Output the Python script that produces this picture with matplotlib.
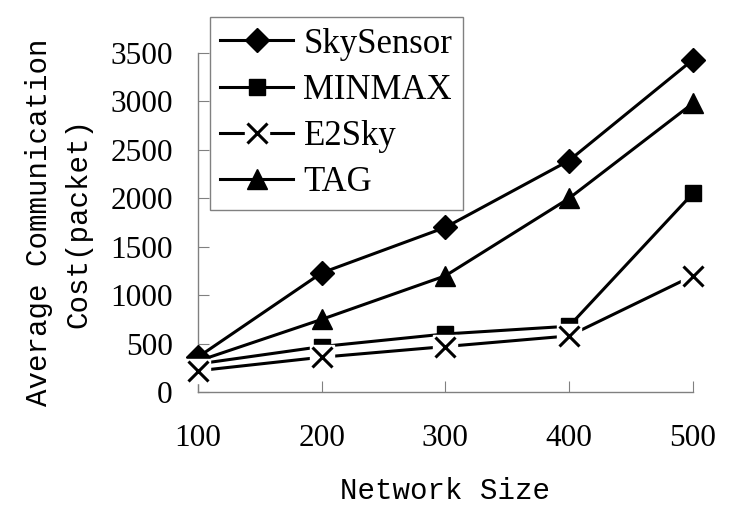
import matplotlib
matplotlib.use("Agg")
import matplotlib.pyplot as plt

sizes = [100, 200, 300, 400, 500]
skysensor = [360, 1230, 1700, 2390, 3430]
minmax = [290, 470, 600, 680, 2050]
e2sky = [220, 360, 470, 580, 1200]
tag = [320, 750, 1200, 2000, 2980]

serif = "Liberation Serif"
mono = "Liberation Mono"

fig = plt.figure(figsize=(7.3, 5.2), dpi=100)
ax = fig.add_axes([0.271, 0.246, 0.678, 0.652])

lw = 2.2
# lines first, markers on top
ax.plot(sizes, skysensor, color="black", lw=lw, zorder=2)
ax.plot(sizes, minmax, color="black", lw=lw, zorder=2)
ax.plot(sizes, e2sky, color="black", lw=lw, zorder=2)
ax.plot(sizes, tag, color="black", lw=lw, zorder=2)

ax.plot(sizes, skysensor, ls="none", marker="D", ms=12, color="black", zorder=3, clip_on=False)
ax.plot(sizes, minmax, ls="none", marker="s", ms=12, color="black", zorder=3, clip_on=False)
ax.plot(sizes, tag, ls="none", marker="^", ms=15, color="black", zorder=3, clip_on=False)
# E2Sky crosses sit on a white patch that cuts the lines underneath
ax.plot(sizes, e2sky, ls="none", marker="s", ms=17, color="white", zorder=4, clip_on=False)
ax.plot(sizes, e2sky, ls="none", marker="x", ms=14, mew=2.2, color="black", zorder=5, clip_on=False)

# legend handles
h_sky = plt.Line2D([], [], color="black", lw=lw, marker="D", ms=12)
h_min = plt.Line2D([], [], color="black", lw=lw, marker="s", ms=12)
h_e2_line = plt.Line2D([], [], color="black", lw=lw)
h_e2_bg = plt.Line2D([], [], ls="none", marker="s", ms=17, color="white")
h_e2_x = plt.Line2D([], [], ls="none", marker="x", ms=14, mew=2.2, color="black")
h_tag = plt.Line2D([], [], color="black", lw=lw, marker="^", ms=15)

leg = ax.legend([h_sky, h_min, (h_e2_line, h_e2_bg, h_e2_x), h_tag],
                ["SkySensor", "MINMAX", "E2Sky", "TAG"],
                loc="upper left", bbox_to_anchor=(0.024, 1.106), borderaxespad=0,
                prop={"family": serif, "size": 25},
                handlelength=2.1, handletextpad=0.3, labelspacing=0.38,
                borderpad=0.3, fancybox=False, framealpha=1, edgecolor="#808080")
leg.get_frame().set_linewidth(1.0)

ax.set_xlim(100, 500)
ax.set_ylim(0, 3500)
ax.set_xticks(sizes)
ax.set_yticks(range(0, 3501, 500))

for s in ["top", "right"]:
    ax.spines[s].set_visible(False)
for s in ["left", "bottom"]:
    ax.spines[s].set_color("#808080")
    ax.spines[s].set_linewidth(1.0)

ax.tick_params(axis="both", direction="in", length=8, color="#808080", labelsize=22.5)
ax.tick_params(axis="x", pad=23)
ax.tick_params(axis="y", pad=18)
for t in ax.get_xticklabels() + ax.get_yticklabels():
    t.set_fontfamily(serif)

ax.set_xlabel("Network Size", fontfamily=mono, fontsize=21, labelpad=17)
ax.set_ylabel("Average Communication\nCost(packet)", fontfamily=mono, fontsize=21,
              labelpad=13, linespacing=1.5)

fig.savefig("out.png", dpi=100)
